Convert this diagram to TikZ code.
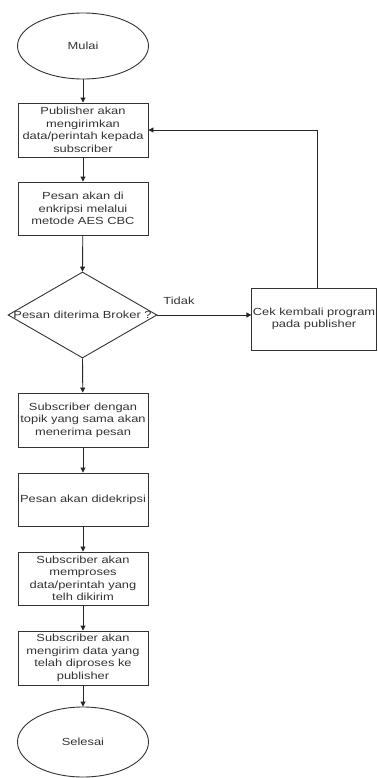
\documentclass[tikz,border=0pt]{standalone}
\usepackage{fontspec}
\setmainfont[FakeStretch=1.25]{Liberation Sans}
\usetikzlibrary{shapes.geometric,arrows.meta}
\begin{document}
\begin{tikzpicture}[x=1pt,y=-1pt,
  every node/.style={font=\fontsize{10.3}{12.5}\selectfont, text=black!80},
  box/.style={draw=black!80, line width=0.9pt, rectangle, minimum width=130pt, align=center, inner sep=1pt},
  term/.style={draw=black!80, line width=0.9pt, ellipse, minimum width=131pt, minimum height=66pt, inner sep=0pt},
  arr/.style={draw=black!85, line width=0.9pt, -{Triangle[length=5pt,width=5pt]}}]
\useasboundingbox (0,0) rectangle (377,778);
\node[term] (start) at (83,46) {Mulai};
\node[box, minimum height=54pt] (b1) at (83,130) {Publisher akan\\mengirimkan\\data/perintah kepada\\subscriber};
\node[box, minimum height=53pt] (b2) at (83,208.5) {Pesan akan di\\enkripsi melalui\\metode AES CBC};
\node[draw=black!80, line width=0.9pt, diamond, minimum width=149pt, minimum height=86pt, inner sep=0pt] (d) at (82.5,315) {};
\node at (d) {Pesan diterima Broker ?};
\node[box, minimum width=124pt, minimum height=62pt] (r) at (314,319) {Cek kembali program\\pada publisher};
\node (tidak) at (179,301) {Tidak};
\node[box, minimum height=54pt] (b3) at (83,420) {Subscriber dengan\\topik yang sama akan\\menerima pesan};
\node[box, minimum height=53pt] (b4) at (83,499.5) {Pesan akan didekripsi};
\node[box, minimum height=53pt] (b5) at (83,578.5) {Subscriber akan\\memproses\\data/perintah yang\\telh dikirim};
\node[box, minimum height=54pt] (b6) at (83,658) {Subscriber akan\\mengirim data yang\\telah diproses ke\\publisher};
\node[term, minimum height=70pt] (end) at (83,742) {Selesai};
\coordinate (up) at (317,130);
\draw[arr] (start) -- (b1);
\draw[arr] (b1) -- (b2);
\draw[arr] (b2) -- (d.north);
\draw[arr] (d.east) -- (d.east -| r.west);
\draw[arr] (r.north -| up) -- (up) -- (b1.east);
\draw[arr] (d.south) -- (b3);
\draw[arr] (b3) -- (b4);
\draw[arr] (b4) -- (b5);
\draw[arr] (b5) -- (b6);
\draw[arr] (b6) -- (end);
\end{tikzpicture}
\end{document}
